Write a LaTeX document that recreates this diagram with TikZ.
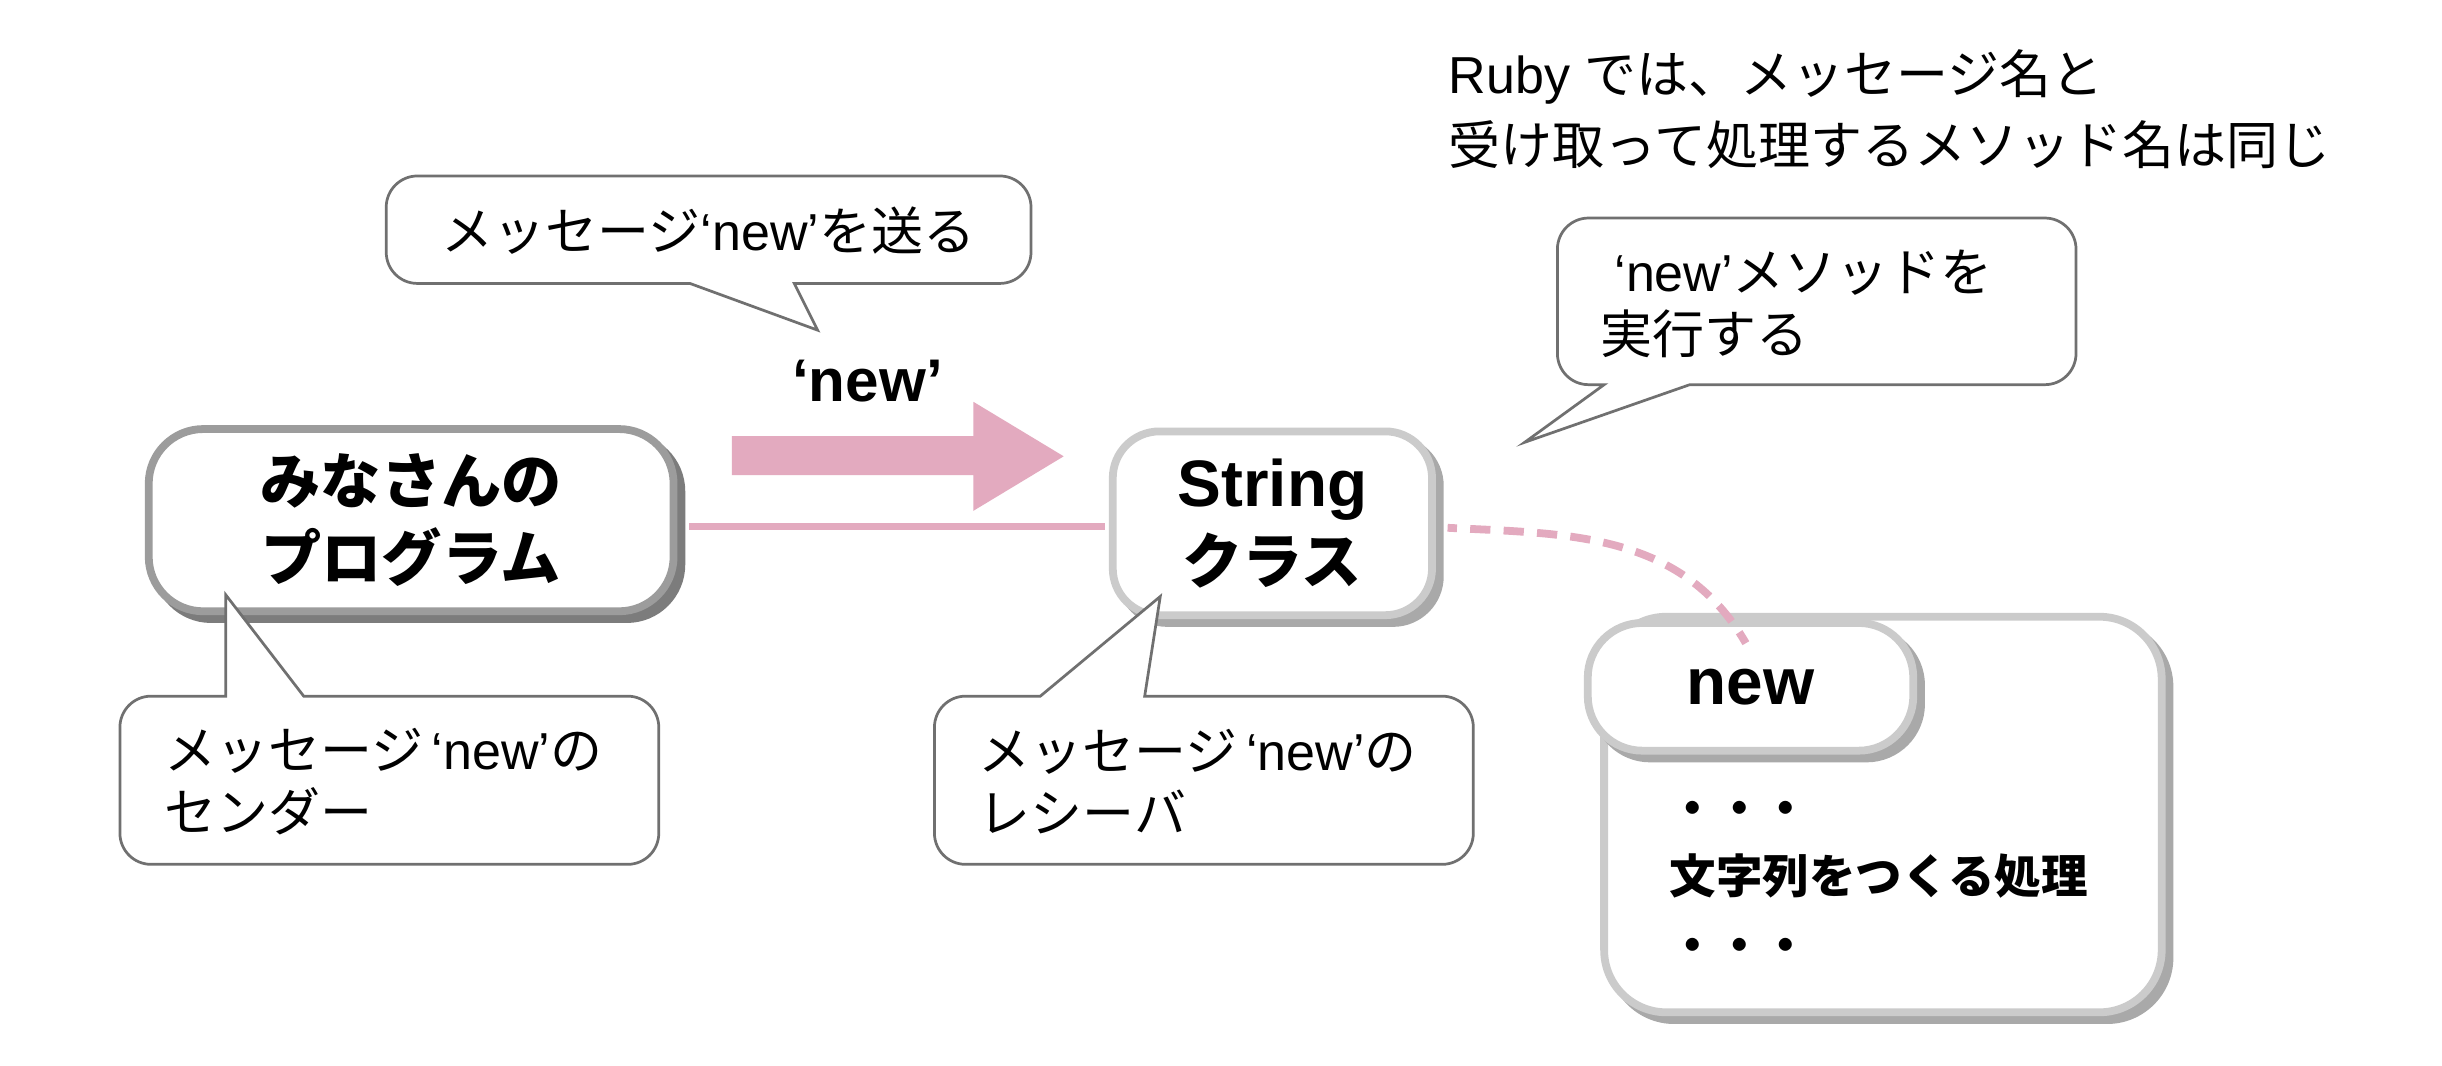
\documentclass[tikz,border=0pt]{standalone}
\usepackage{fontspec}
\setmainfont{Liberation Sans}
\newfontfamily\jp{Noto Sans CJK JP}
\usetikzlibrary{shadows}

\definecolor{pinkline}{HTML}{E3AABF}
\definecolor{darkrim}{HTML}{9C9C9C}
\definecolor{darkshade}{HTML}{7C7C7C}
\definecolor{lightrim}{HTML}{CBCBCB}
\definecolor{lightshade}{HTML}{A9A9A9}
\definecolor{bubblerim}{HTML}{707070}

\begin{document}
\begin{tikzpicture}[x=0.2mm, y=-0.2mm,
  bigbox/.style={fill=white, line width=1mm, align=center, inner sep=0pt},
  darkbox/.style={bigbox, draw=darkrim,
    general shadow={fill=darkshade, draw=darkshade, line width=1mm, shadow xshift=1mm, shadow yshift=-1mm}},
  lightbox/.style={bigbox, draw=lightrim,
    general shadow={fill=lightshade, draw=lightshade, line width=1mm, shadow xshift=1mm, shadow yshift=-1mm}},
  bubble/.style={draw=bubblerim, fill=white, line width=0.35mm},
  saytext/.style={font=\fontsize{19}{22.8}\selectfont, align=left, inner sep=0pt}]

  \fill[white] (0,0) rectangle (1568,684);
  \useasboundingbox (0,0) rectangle (1568,684);

  % Note at the top
  \node[saytext, anchor=west, font=\fontsize{19}{26}\selectfont] (note) at (930,70)
    {Ruby {\jp では、メッセージ名と}\\{\jp 受け取って処理するメソッド名は同じ}};

  % Sender and receiver
  \node[darkbox, rounded corners=7mm, minimum width=67.4mm, minimum height=23.4mm,
    font=\jp\bfseries\fontsize{22}{28}\selectfont] (prog) at (264,334) {みなさんの\\プログラム};
  \node[lightbox, rounded corners=6mm, minimum width=41mm, minimum height=23.6mm,
    font=\bfseries\fontsize{24}{28}\selectfont] (string) at (817,336)
    {String\\{\jp\fontsize{22}{28}\selectfont クラス}};

  % Method box
  \node[lightbox, rounded corners=8mm, minimum width=71.6mm, minimum height=50.8mm] (method) at (1209,523) {};
  \node[lightbox, rounded corners=7mm, minimum width=41.8mm, minimum height=16.4mm,
    font=\bfseries\fontsize{24}{28}\selectfont] (newtab) at (1124,441) {new};
  \node[anchor=west, align=left, font=\jp\bfseries\fontsize{17}{25}\selectfont] (steps) at (1066,566)
    {・・・\\文字列をつくる処理\\・・・};

  % Links
  \draw[pinkline, line width=1mm, shorten <=1.5mm, shorten >=0.5mm]
    ([yshift=-0.8mm]prog.east) -- ([yshift=-0.8mm]prog.east -| string.west);
  \coordinate (dashend) at (1121,413);
  \draw[pinkline, line width=1mm, dash pattern=on 2.6mm off 1.7mm, dash phase=1.4mm, shorten <=1.5mm]
    ([yshift=-0.5mm]string.east) to[out=-3, in=120] (dashend);

  % Big arrow
  \fill[pinkline] (470,280) -- (625,280) -- (625,258) -- (683,293) -- (625,328) -- (625,305) -- (470,305) -- cycle;
  \node[font=\bfseries\fontsize{22}{26}\selectfont] (msglabel) at (557,245) {‘new’};

  % Bubbles
  \draw[bubble] (455,113) [rounded corners=4mm] -- (662,113) -- (662,182) [sharp corners] -- (510,182)
    -- (525,212) -- (443,182) [rounded corners=4mm] -- (248,182) -- (248,113) -- cycle;
  \node[saytext] (sendtxt) at (455,148) {{\jp メッセージ}‘new’{\jp を送る}};

  \draw[bubble] (1166,140) [rounded corners=4mm] -- (1333,140) -- (1333,247) [sharp corners] -- (1085,247)
    -- (979,284) -- (1030,247) [rounded corners=4mm] -- (1000,247) -- (1000,140) -- cycle;
  \node[saytext, anchor=west] (runtxt) at (1027,195) {\ ‘new’{\jp メソッドを}\\{\jp 実行する}};

  \draw[bubble] (250,555) [rounded corners=4mm] -- (77,555) -- (77,447) [sharp corners] -- (145,447)
    -- (145,382) -- (195,447) [rounded corners=4mm] -- (423,447) -- (423,555) -- cycle;
  \node[saytext, anchor=west] (sendertxt) at (105,502) {{\jp メッセージ}\,‘new’{\jp の}\\{\jp センダー}};

  \draw[bubble] (773,555) [rounded corners=4mm] -- (600,555) -- (600,447) [sharp corners] -- (668,447)
    -- (745,383) -- (735,447) [rounded corners=4mm] -- (946,447) -- (946,555) -- cycle;
  \node[saytext, anchor=west] (receivertxt) at (628,502) {{\jp メッセージ}\,‘new’{\jp の}\\{\jp レシーバ}};
\end{tikzpicture}
\end{document}
